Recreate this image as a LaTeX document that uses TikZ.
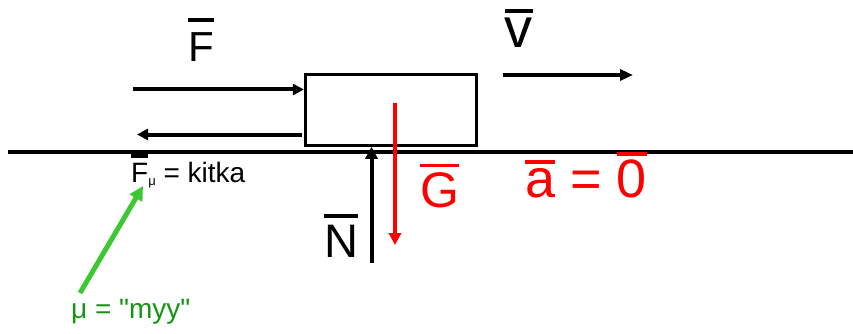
\documentclass[tikz,border=0pt]{standalone}
\usepackage{fontspec}
\setmainfont{Liberation Sans}[Ligatures=TeXOff]
\usetikzlibrary{arrows.meta}
\definecolor{arrowgreen}{RGB}{60,200,50}
\definecolor{textgreen}{RGB}{20,150,20}
\newcommand{\ovl}[3]{\vbox{\hrule height #2\kern#1\hbox{#3}}}

\begin{document}
\begin{tikzpicture}[x=1pt, y=-1pt,
		force/.style={line width=4pt, -{Triangle[length=11pt,width=11pt]}},
		lbl/.style={inner sep=0pt, anchor=base}]
		
		\useasboundingbox (0,0) rectangle (853,334);
		
		\draw[line width=3.5pt] (8,152) coordinate (gl) -- (853,152) coordinate (gr);
		\node[draw, line width=3.2pt, minimum width=171pt, minimum height=71pt, inner sep=0pt] (box) at (391,109.7) {};
		
		\coordinate (Fs) at (133,89.5);
		\coordinate (Fmu) at (137,134.5);
		\coordinate (vs) at (503,75);
		\coordinate (ve) at (633,75);
		\coordinate (Ns) at (371.5,263);
		\coordinate (Gs) at (395,103);
		\coordinate (Ge) at (395,245);
		\coordinate (ms) at (80,293);
		\coordinate (me) at (143,186);
		
		\draw[force] (Fs) -- (Fs -| box.west);
		\draw[force, {Triangle[length=11pt,width=11pt]}-] (Fmu) -- ([xshift=-2pt]Fmu -| box.west);
		\draw[force, -{Triangle[length=13pt,width=11pt]}] (vs) -- (ve);
		\draw[force, -{Triangle[length=12pt,width=12pt]}] (Ns) -- (Ns |- box.south);
		\draw[force, red, -{Triangle[length=12pt,width=12pt]}] (Gs) -- (Ge);
		\draw[force, line width=5pt, arrowgreen, -{Triangle[length=14pt,width=14pt]}] (ms) -- (me);
		
		\node[lbl] (F) at (201,62) {\fontsize{42}{48}\selectfont\ovl{0.27em}{0.08em}{F}};
		\node[lbl] (v) at (518.5,48) {\fontsize{56}{64}\selectfont\ovl{0.1em}{0.06em}{v}};
		\node[lbl] (N) at (341,257) {\fontsize{47}{54}\selectfont\ovl{0.15em}{0.07em}{N}};
		\node[lbl, red] (G) at (439.5,207) {\fontsize{50}{58}\selectfont\ovl{0.1em}{0.07em}{G}};
		\node[lbl, red, anchor=base west] (a0) at (525,197.5) {\fontsize{54}{62}\selectfont\ovl{0.09em}{0.06em}{a} = \ovl{0.075em}{0.075em}{0}};
		\node[lbl, anchor=base west] (kitka) at (131,182) {\fontsize{28}{32}\selectfont\ovl{0.18em}{0.13em}{F}\raisebox{-3pt}{\fontsize{13}{15}\selectfont μ} = kitka};
		\node[lbl, textgreen, anchor=base west] (myy) at (71,318) {\fontsize{28}{32}\selectfont μ = "myy"};
		
	\end{tikzpicture}
\end{document}
